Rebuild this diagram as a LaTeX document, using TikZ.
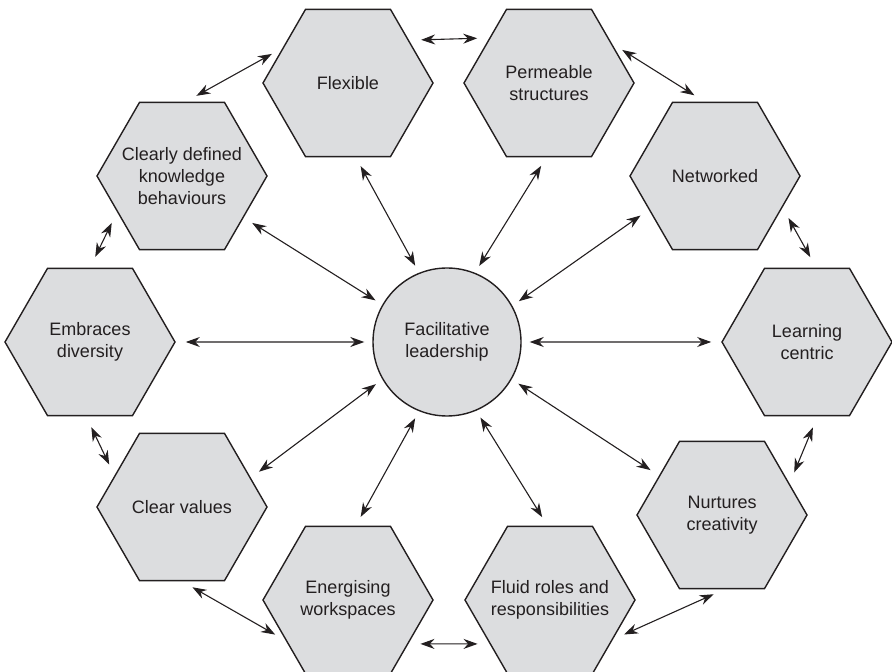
\documentclass[tikz,border=0pt]{standalone}
\usepackage{fontspec}
\setmainfont{Liberation Sans}
\usetikzlibrary{shapes.geometric,arrows.meta}
\definecolor{hexfill}{HTML}{DCDDDF}
\definecolor{inkline}{HTML}{231F20}
\begin{document}
\begin{tikzpicture}[x=0.5pt, y=-0.5pt,
    hexbox/.style={draw=inkline, line width=0.7pt, fill=hexfill, regular polygon, regular polygon sides=6, minimum size=85pt, inner sep=-12pt, align=center, text=inkline, font=\fontsize{9}{10.9}\selectfont},
    hub/.style={draw=inkline, line width=0.7pt, fill=hexfill, circle, minimum size=74pt, inner sep=1pt, align=center, text=inkline, font=\fontsize{9}{10.9}\selectfont},
    spoke/.style={{Stealth[length=7pt,width=5pt]}-{Stealth[length=7pt,width=5pt]}, draw=inkline, line width=0.55pt, shorten <=4pt, shorten >=5pt},
    ring/.style={spoke, shorten <=6pt, shorten >=6pt}]
    \useasboundingbox (0,0) rectangle (892,672);

    % Central hub
    \node[hub] (lead) at (447,342) {Facilitative\\leadership};

    % Hexagons, clockwise from the top
    \node[hexbox] (flex) at (348,83) {Flexible};
    \node[hexbox] (perm) at (549,83) {Permeable\\structures};
    \node[hexbox] (net) at (715,176) {Networked};
    \node[hexbox] (learn) at (807,342) {Learning\\centric};
    \node[hexbox] (nurt) at (722,515) {Nurtures\\creativity};
    \node[hexbox] (fluid) at (550,600) {Fluid roles and\\responsibilities};
    \node[hexbox] (ener) at (348,600) {Energising\\workspaces};
    \node[hexbox] (clear) at (182,507) {Clear values};
    \node[hexbox] (emb) at (90,342) {Embraces\\diversity};
    \node[hexbox] (defn) at (182,176) {Clearly defined\\knowledge\\behaviours};

    % Arrows from hub to hexagons
    \draw[spoke] (lead.112) -- (flex.-84);
    \draw[spoke] (lead.68) -- (perm.-92);
    \draw[spoke] (lead.29) -- (net.-153);
    \draw[spoke] (lead.0) -- (learn.180);
    \draw[spoke] (lead.-30) -- (nurt.148);
    \draw[spoke] (lead.-67) -- (fluid.92);
    \draw[spoke] (lead.-112) -- (ener.84);
    \draw[spoke] (lead.-150) -- (clear.23);
    \draw[spoke] (lead.180) -- (emb.0);
    \draw[spoke] (lead.150) -- (defn.-34);

    % Arrows between neighbours
    \draw[ring] (defn.87) -- (flex.152);
    \draw[ring] (flex.35) -- (perm.143);
    \draw[ring] (perm.32) -- (net.98);
    \draw[ring] (net.-25) -- (learn.83);
    \draw[ring] (learn.-82) -- (nurt.25);
    \draw[ring] (nurt.-88) -- (fluid.-32);
    \draw[ring] (fluid.-144) -- (ener.-36);
    \draw[ring] (ener.-147) -- (clear.-90);
    \draw[ring] (clear.155) -- (emb.-93);
    \draw[ring] (emb.90) -- (defn.-151);
\end{tikzpicture}
\end{document}
